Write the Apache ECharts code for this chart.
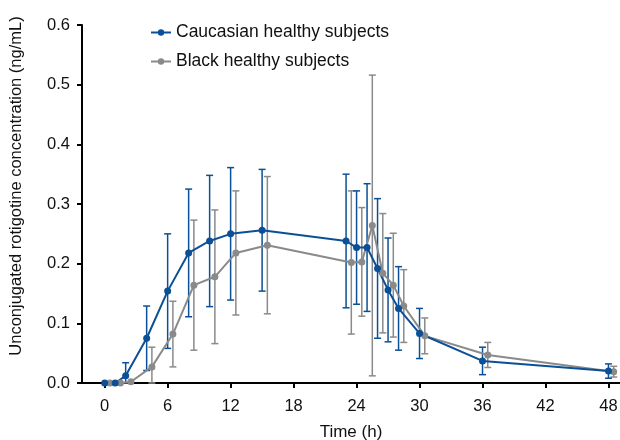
<!DOCTYPE html>
<html>
<head>
<meta charset="utf-8">
<script src="https://cdn.jsdelivr.net/npm/echarts@6/dist/echarts.min.js"></script>
<style>
  html, body { margin: 0; padding: 0; background: #fff; }
  #chart { width: 620px; height: 440px; }
</style>
</head>
<body>
<div id="chart"></div>
<script>
// Caucasian healthy subjects (mean +/- SD)
const timesCau = [0, 1, 2, 4, 6, 8, 10, 12, 15, 23, 24, 25, 26, 27, 28, 30, 36, 48];
const meanCau = [0, 0, 0.012, 0.075, 0.154, 0.218, 0.238, 0.250, 0.256, 0.238, 0.227, 0.227, 0.192, 0.156, 0.125, 0.083, 0.037, 0.020];
const sdCau = [0, 0, 0.022, 0.054, 0.096, 0.107, 0.110, 0.111, 0.102, 0.112, 0.095, 0.107, 0.117, 0.087, 0.070, 0.042, 0.023, 0.012];

// Black healthy subjects (plotted slightly offset in time)
const timesBlk = [0.5, 1.5, 2.5, 4.5, 6.5, 8.5, 10.5, 12.5, 15.5, 23.5, 24.5, 25.5, 26.5, 27.5, 28.5, 30.5, 36.5, 48.5];
const meanBlk = [0, 0, 0.002, 0.027, 0.082, 0.164, 0.178, 0.218, 0.231, 0.202, 0.203, 0.264, 0.184, 0.164, 0.129, 0.079, 0.047, 0.019];
const sdBlk = [0, 0, 0, 0.033, 0.055, 0.109, 0.112, 0.104, 0.115, 0.120, 0.091, 0.252, 0.100, 0.087, 0.061, 0.030, 0.021, 0.009];

const xTicks = [0, 6, 12, 18, 24, 30, 36, 42, 48];

const BLUE = '#0b5096';
const GRAY = '#8a8a8a';
const TEXT = '#111';
const FONT = "'Liberation Sans', Arial, sans-serif";

function pts(t, m) {
    return t.map((x, i) => [x, m[i]]);
}

function bars(t, m, sd) {
    return t.map((x, i) => [x, Math.max(0, m[i] - sd[i]), m[i] + sd[i]]);
}

function errorSeries(name, data, color) {
    return {
        name: name,
        type: 'custom',
        data: data,
        z: 2,
        renderItem: function (params, api) {
            const lo = api.coord([api.value(0), api.value(1)]);
            const hi = api.coord([api.value(0), api.value(2)]);
            if (Math.abs(hi[1] - lo[1]) < 1) return null;
            const w = 3.5;
            const style = { stroke: color, lineWidth: 1.5 };
            return {
                type: 'group',
                children: [
                    { type: 'line', shape: { x1: lo[0], y1: lo[1], x2: hi[0], y2: hi[1] }, style: style },
                    { type: 'line', shape: { x1: hi[0] - w, y1: hi[1], x2: hi[0] + w, y2: hi[1] }, style: style },
                    { type: 'line', shape: { x1: lo[0] - w, y1: lo[1], x2: lo[0] + w, y2: lo[1] }, style: style }
                ]
            };
        }
    };
}

function lineSeries(name, data, color) {
    return {
        name: name,
        type: 'line',
        data: data,
        z: 3,
        symbol: 'circle',
        symbolSize: 7,
        color: color,
        lineStyle: { width: 2, color: color },
        itemStyle: { color: color }
    };
}

const chart = echarts.init(document.getElementById('chart'));
chart.setOption({
    animation: false,
    grid: { left: 82, right: 0, top: 25, bottom: 57, outerBoundsMode: 'none' },
    legend: {
        data: ['Caucasian healthy subjects', 'Black healthy subjects'],
        orient: 'vertical',
        left: 145,
        top: 17,
        itemWidth: 20,
        itemHeight: 8,
        itemGap: 8,
        textStyle: { fontFamily: FONT, fontSize: 17.5, color: TEXT, lineHeight: 21 }
    },
    xAxis: {
        type: 'value',
        min: -2.16,
        max: 49.1,
        name: 'Time (h)',
        nameLocation: 'middle',
        nameGap: 41,
        nameTextStyle: { fontFamily: FONT, fontSize: 17, color: TEXT },
        axisLine: { onZero: false, lineStyle: { color: '#000', width: 2 } },
        axisTick: { customValues: xTicks, length: 5, lineStyle: { color: '#000', width: 2 } },
        axisLabel: { customValues: xTicks, fontFamily: FONT, fontSize: 16.5, color: TEXT, margin: 15 },
        splitLine: { show: false }
    },
    yAxis: {
        type: 'value',
        min: 0,
        max: 0.6,
        interval: 0.1,
        axisLine: { show: true, onZero: false, lineStyle: { color: '#000', width: 2 } },
        axisTick: { show: true, length: 5, lineStyle: { color: '#000', width: 2 } },
        axisLabel: {
            fontFamily: FONT, fontSize: 16.5, color: TEXT, margin: 12,
            formatter: v => v.toFixed(1)
        },
        splitLine: { show: false }
    },
    graphic: [{
        type: 'text',
        x: 16,
        y: 186,
        rotation: Math.PI / 2,
        style: {
            text: 'Unconjugated rotigotine concentration (ng/mL)',
            fontFamily: FONT,
            fontSize: 16.5,
            fill: TEXT,
            align: 'center',
            verticalAlign: 'middle'
        }
    }],
    series: [
        errorSeries('Black SD', bars(timesBlk, meanBlk, sdBlk), GRAY),
        lineSeries('Black healthy subjects', pts(timesBlk, meanBlk), GRAY),
        errorSeries('Caucasian SD', bars(timesCau, meanCau, sdCau), BLUE),
        lineSeries('Caucasian healthy subjects', pts(timesCau, meanCau), BLUE)
    ]
});
</script>
</body>
</html>
